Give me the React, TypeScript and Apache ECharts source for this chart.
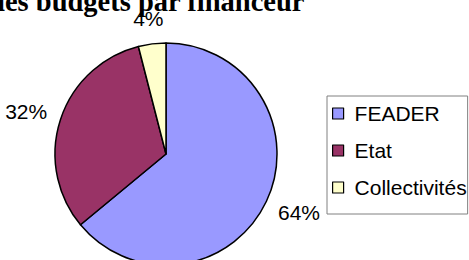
import React, { useEffect, useRef } from "react";
import * as echarts from "echarts";

const title = "Répartition des budgets par financeur";
const categories = ["FEADER", "Etat", "Collectivités"];
const values = [64, 32, 4];
const colors = ["#9999FF", "#993366", "#FFFFCC"];

const CX = 166;
const CY = 154;
const R = 111;
const LABEL_PAD = 15;

export default function App() {
  const ref = useRef<HTMLDivElement>(null);
  useEffect(() => {
    if (!ref.current) return;
    const chart = echarts.init(ref.current, null, { renderer: "svg" });
    const total = values.reduce((a, b) => a + b, 0);
    const cum: number[] = [];
    let acc = 0;
    for (const v of values) {
      cum.push(acc);
      acc += v;
    }
    chart.setOption({
      animation: false,
      backgroundColor: "#ffffff",
      graphic: [
        {
          type: "text",
          right: 469 - 305,
          top: -13,
          style: {
            text: title,
            font: 'bold 28.5px "Liberation Serif"',
            fill: "#000",
          },
        },
      ],
      legend: {
        orient: "vertical",
        left: 327,
        top: 96,
        data: categories,
        icon: "rect",
        itemWidth: 11,
        itemHeight: 11,
        itemGap: 16,
        padding: [7, 1, 16, 5],
        borderColor: "#808080",
        borderWidth: 1,
        itemStyle: { borderColor: "#000", borderWidth: 1.2 },
        textStyle: {
          fontFamily: '"Liberation Sans", Arial',
          fontSize: 21,
          color: "#000",
          padding: [0, 0, 0, 6],
          letterSpacing: -0.5,
        },
      },
      series: [
        {
          type: "pie",
          center: [CX, CY],
          radius: [0, R],
          startAngle: 90,
          clockwise: true,
          avoidLabelOverlap: false,
          itemStyle: { borderColor: "#000", borderWidth: 1.5 },
          label: {
            show: true,
            position: "outside",
            formatter: (p: any) => `${p.value}%`,
            fontFamily: '"Liberation Sans", Arial',
            fontSize: 21,
            color: "#000",
            letterSpacing: -0.5,
          },
          labelLine: { show: false },
          labelLayout: (p: any) => {
            const i = p.dataIndex;
            const mid = ((cum[i] + values[i] / 2) / total) * 2 * Math.PI;
            const dx = Math.sin(mid);
            const dy = -Math.cos(mid);
            const w = p.labelRect.width / 2;
            const h = p.labelRect.height / 2;
            return {
              x: CX + (R + LABEL_PAD + w) * dx,
              y: CY + (R + LABEL_PAD + h) * dy,
              align: "center",
              verticalAlign: "middle",
            };
          },
          data: categories.map((c, i) => ({
            name: c,
            value: values[i],
            itemStyle: { color: colors[i] },
          })),
        },
      ],
    });
    return () => chart.dispose();
  }, []);
  return <div ref={ref} style={{ width: 469, height: 260, position: "absolute", left: 0, top: 0 }} />;
}
